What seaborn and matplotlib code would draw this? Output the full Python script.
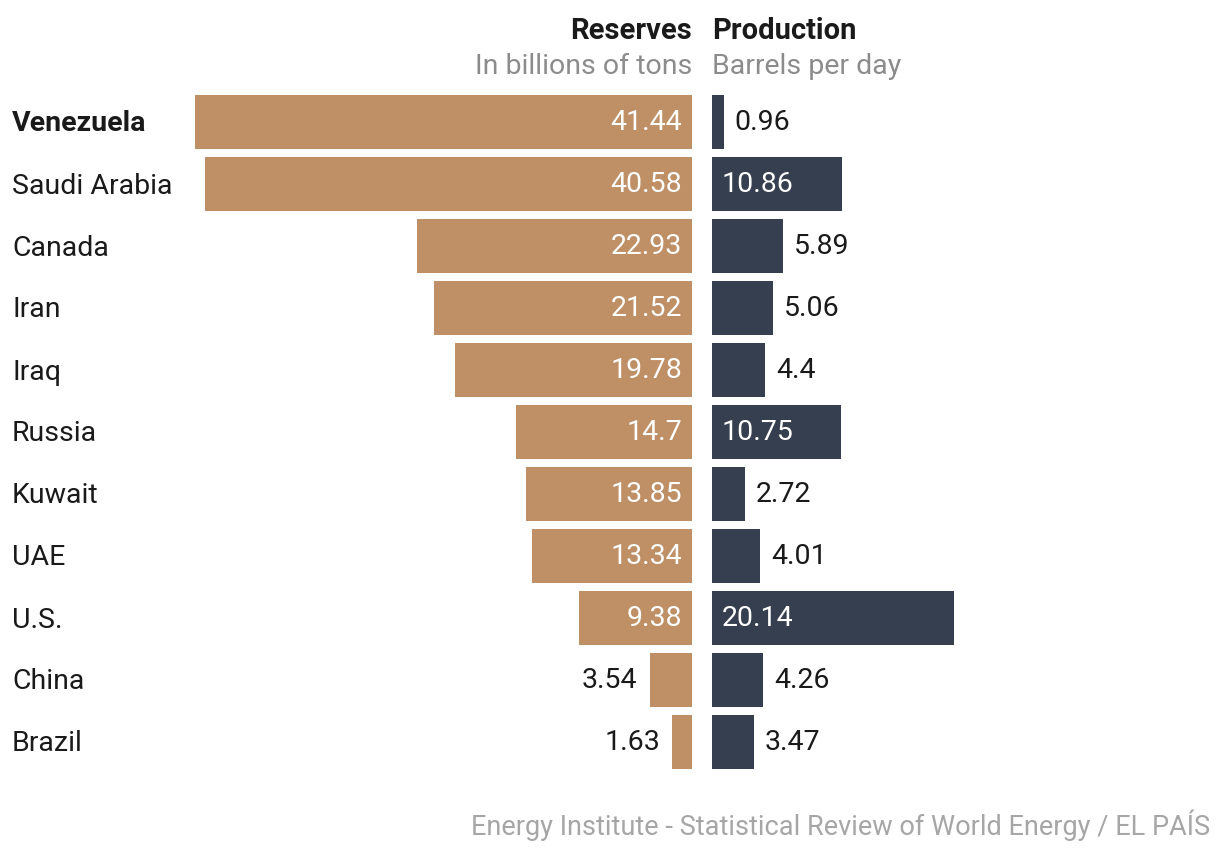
import pandas as pd
import matplotlib.pyplot as plt
import seaborn as sns

countries = ['Venezuela', 'Saudi Arabia', 'Canada', 'Iran', 'Iraq', 'Russia',
             'Kuwait', 'UAE', 'U.S.', 'China', 'Brazil']
reserves = [41.44, 40.58, 22.93, 21.52, 19.78, 14.7, 13.85, 13.34, 9.38, 3.54, 1.63]
production = [0.96, 10.86, 5.89, 5.06, 4.4, 10.75, 2.72, 4.01, 20.14, 4.26, 3.47]

df = pd.DataFrame({'Country': countries, 'Reserves': reserves, 'Production': production})

TAN = '#BF8F66'
NAVY = '#353F4F'
GREY = '#8C8C8C'
INK = '#1A1A1A'

sns.set_theme(style='white')
plt.rcParams['font.family'] = ['Roboto', 'DejaVu Sans']

W, H = 1220, 854
fig = plt.figure(figsize=(W / 100, H / 100), dpi=100)

# pixel layout
top, bottom = 92, 774
scale = 12.0  # px per unit
left_zero, right_zero = 692, 712
lw = 560
ax_l = fig.add_axes([(left_zero - lw) / W, 1 - bottom / H, lw / W, (bottom - top) / H])
ax_r = fig.add_axes([right_zero / W, 1 - bottom / H, lw / W, (bottom - top) / H])

sns.barplot(data=df, y='Country', x='Reserves', ax=ax_l, color=TAN, width=0.87,
            saturation=1, orient='h', linewidth=0)
sns.barplot(data=df, y='Country', x='Production', ax=ax_r, color=NAVY, width=0.87,
            saturation=1, orient='h', linewidth=0)

ax_l.set_xlim(lw / scale, 0)
ax_r.set_xlim(0, lw / scale)
for ax in (ax_l, ax_r):
    ax.set_ylim(len(countries) - 0.5, -0.5)
    ax.axis('off')

fs = 20.5
for i, v in enumerate(reserves):
    if v > 5:
        ax_l.annotate(f'{v:g}', (0, i), xytext=(-10, 0), textcoords='offset pixels',
                      ha='right', va='center', color='white', fontsize=fs)
    else:
        ax_l.annotate(f'{v:g}', (v, i), xytext=(-12, 0), textcoords='offset pixels',
                      ha='right', va='center', color=INK, fontsize=fs)

for i, v in enumerate(production):
    if v > 8:
        ax_r.annotate(f'{v:g}', (0, i), xytext=(10, 0), textcoords='offset pixels',
                      ha='left', va='center', color='white', fontsize=fs)
    else:
        ax_r.annotate(f'{v:g}', (v, i), xytext=(11, 0), textcoords='offset pixels',
                      ha='left', va='center', color=INK, fontsize=fs)

for i, c in enumerate(countries):
    fig.text(12 / W, 1 - (124 + 62 * i) / H, c, ha='left', va='center', fontsize=fs,
             color=INK, fontweight='bold' if c == 'Venezuela' else 'normal')

fig.text(left_zero / W, 1 - 31 / H, 'Reserves', ha='right', va='center', fontsize=21,
         fontweight='bold', color=INK)
fig.text(right_zero / W, 1 - 31 / H, 'Production', ha='left', va='center', fontsize=21,
         fontweight='bold', color=INK)
fig.text(left_zero / W, 1 - 67 / H, 'In billions of tons', ha='right', va='center',
         fontsize=fs, color=GREY)
fig.text(right_zero / W, 1 - 67 / H, 'Barrels per day', ha='left', va='center',
         fontsize=fs, color=GREY)

fig.text(1210 / W, 1 - 825 / H, 'Energy Institute - Statistical Review of World Energy / EL PAÍS',
         ha='right', va='center', fontsize=19.5, color='#A6A6A6')

fig.savefig('out.png', dpi=100, facecolor='white')
